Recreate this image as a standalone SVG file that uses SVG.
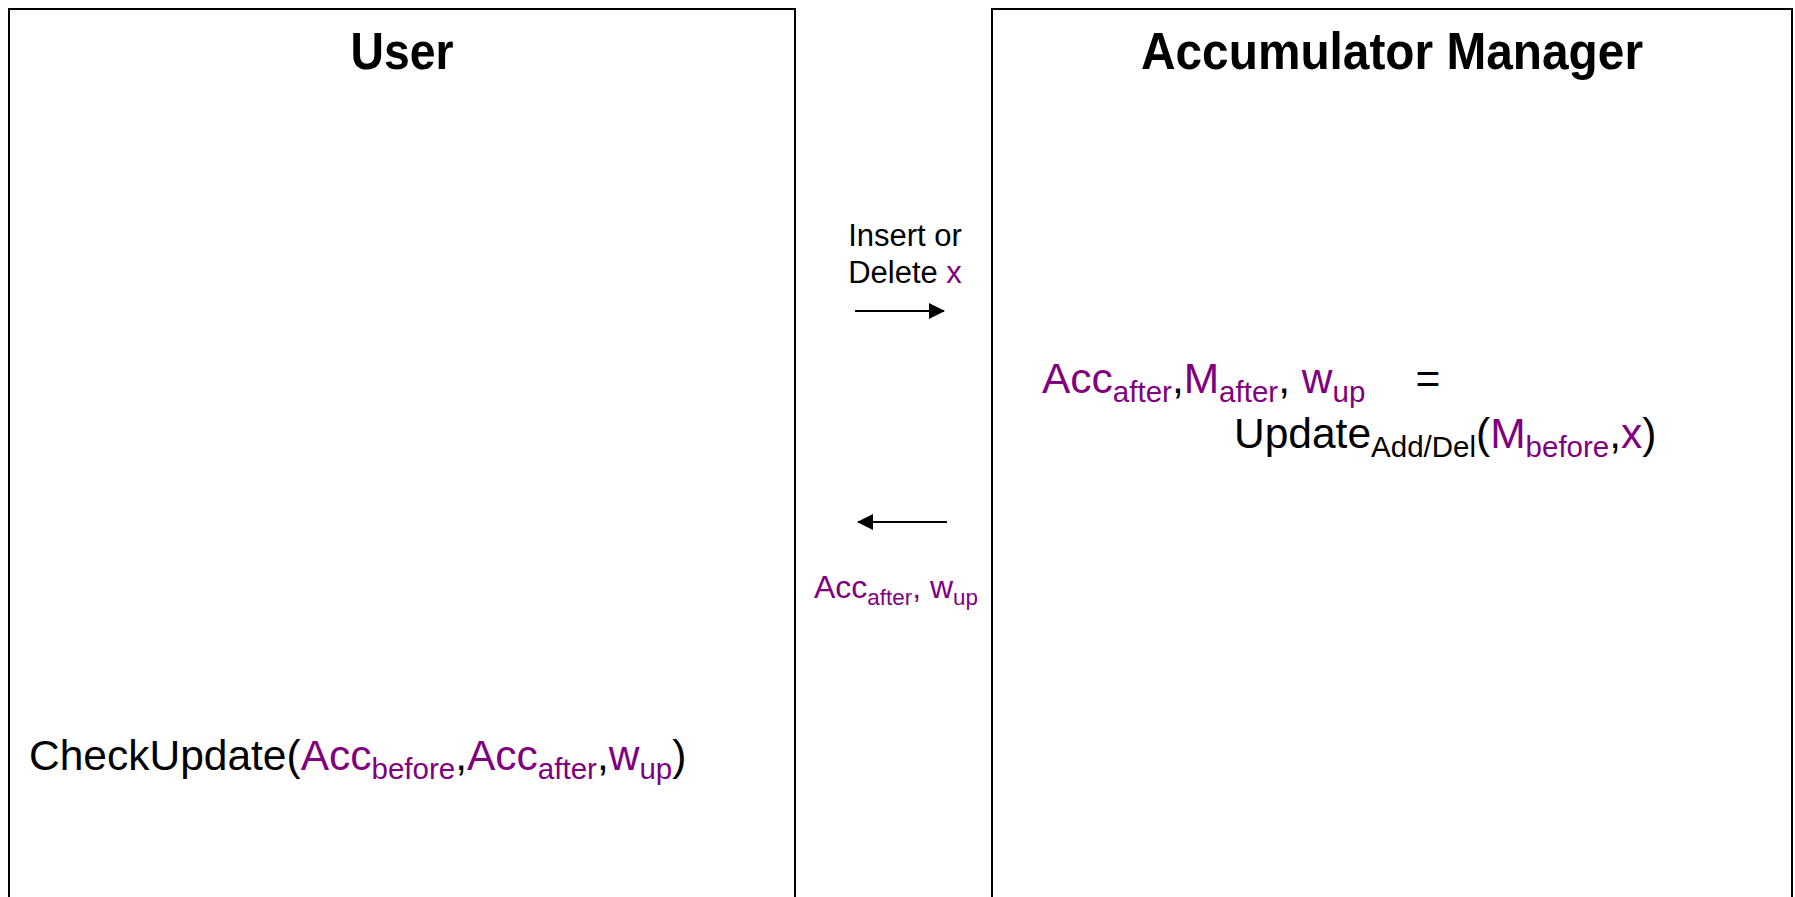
<svg xmlns="http://www.w3.org/2000/svg" width="1795" height="897" viewBox="0 0 1795 897">
<style>
.box{fill:#fff;stroke:#000;stroke-width:2}
.title{font-family:"Liberation Sans",Arial,sans-serif;font-weight:bold;font-size:52px;fill:#000}
.t{font-family:"Liberation Sans",Arial,sans-serif;fill:#000}
.p{fill:#800080}
.conn{stroke:#000;stroke-width:2;fill:none}
</style>
<defs>
<marker id="ah" markerWidth="8" markerHeight="8" refX="7.5" refY="4" orient="auto" markerUnits="strokeWidth">
<path d="M0,0 L8,4 L0,8 Z" fill="#000"/>
</marker>
</defs>
<rect width="1795" height="897" fill="#fff"/>
<g id="user">
<rect class="box" x="9" y="9" width="786" height="900"/>
<text class="title" x="402" y="69" text-anchor="middle" textLength="103" lengthAdjust="spacingAndGlyphs">User</text>
<text class="t" x="29" y="770" font-size="42.5">CheckUpdate(<tspan class="p">Acc</tspan><tspan class="p" font-size="29.5" dy="9">before</tspan><tspan dy="-9">,</tspan><tspan class="p">Acc</tspan><tspan class="p" font-size="29.5" dy="9">after</tspan><tspan dy="-9">,</tspan><tspan class="p">w</tspan><tspan class="p" font-size="29.5" dy="9">up</tspan><tspan dy="-9">)</tspan></text>
</g>
<g id="manager">
<rect class="box" x="992" y="9" width="800" height="900"/>
<text class="title" x="1392" y="69" text-anchor="middle" textLength="502" lengthAdjust="spacingAndGlyphs">Accumulator Manager</text>
<text class="t" x="1042" y="393" font-size="42.5"><tspan class="p">Acc</tspan><tspan class="p" font-size="29.5" dy="9">after</tspan><tspan dy="-9">,</tspan><tspan class="p">M</tspan><tspan class="p" font-size="29.5" dy="9">after</tspan><tspan dy="-9">, </tspan><tspan class="p">w</tspan><tspan class="p" font-size="29.5" dy="9">up</tspan></text>
<text class="t" x="1428" y="393" font-size="42.5" text-anchor="middle">=</text>
<text class="t" x="1234" y="448" font-size="42.5">Update<tspan font-size="29.5" dy="9">Add/Del</tspan><tspan dy="-9">(</tspan><tspan class="p">M</tspan><tspan class="p" font-size="29.5" dy="9">before</tspan><tspan dy="-9">,</tspan><tspan class="p">x</tspan>)</text>
</g>
<g id="connectors">
<line class="conn" x1="855" y1="311" x2="944" y2="311" marker-end="url(#ah)"/>
<line class="conn" x1="947" y1="522" x2="858" y2="522" marker-end="url(#ah)"/>
<text class="t" x="905" y="246" font-size="31" text-anchor="middle">Insert or</text>
<text class="t" x="905" y="283" font-size="31" text-anchor="middle">Delete <tspan class="p">x</tspan></text>
<text class="t" x="814" y="598" font-size="32"><tspan class="p">Acc</tspan><tspan class="p" font-size="22.4" dy="7">after</tspan><tspan class="p" dy="-7">, w</tspan><tspan class="p" font-size="22.4" dy="7">up</tspan></text>
</g>
</svg>
